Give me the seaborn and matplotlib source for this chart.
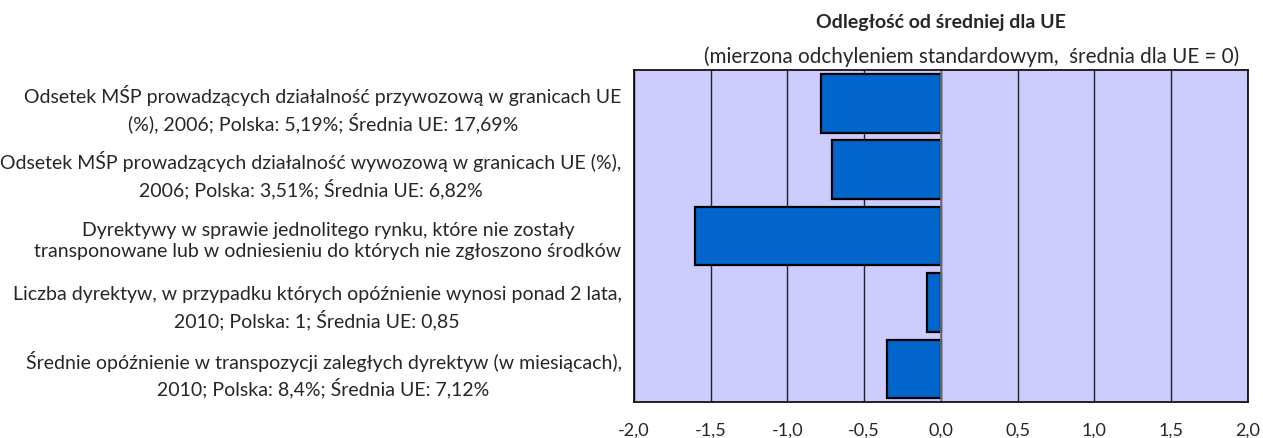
import numpy as np
import pandas as pd
import matplotlib
matplotlib.use('Agg')
import matplotlib.pyplot as plt
import seaborn as sns

# indicators (y axis) and distance from EU mean in standard deviations
labels = [
    'Odsetek MŚP prowadzących działalność przywozową w granicach UE\n(%), 2006; Polska: 5,19%; Średnia UE: 17,69%',
    'Odsetek MŚP prowadzących działalność wywozową w granicach UE (%),\n2006; Polska: 3,51%; Średnia UE: 6,82%',
    'Dyrektywy w sprawie jednolitego rynku, które nie zostały\ntransponowane lub w odniesieniu do których nie zgłoszono środków',
    'Liczba dyrektyw, w przypadku których opóźnienie wynosi ponad 2 lata,\n2010; Polska: 1; Średnia UE: 0,85',
    'Średnie opóźnienie w transpozycji zaległych dyrektyw (w miesiącach),\n2010; Polska: 8,4%; Średnia UE: 7,12%',
]
values = [-0.78, -0.71, -1.60, -0.09, -0.35]
xticks = [-2.0, -1.5, -1.0, -0.5, 0.0, 0.5, 1.0, 1.5, 2.0]

title = 'Odległość od średniej dla UE'
subtitle = '(mierzona odchyleniem standardowym,  średnia dla UE = 0)'

sns.set_style('white')
plt.rcParams['font.family'] = ['Lato', 'DejaVu Sans']

df = pd.DataFrame({'label': labels, 'value': values})

fig, ax = plt.subplots(figsize=(12.63, 4.39), dpi=100)
fig.subplots_adjust(left=0.502, right=0.988, top=0.838, bottom=0.082)

ax.set_facecolor('#CCCCFF')
ax.set_axisbelow(True)
ax.xaxis.grid(True, color='#222222', linewidth=1)

sns.barplot(data=df, x='value', y='label', orient='h', color='#0066CC',
            saturation=1, edgecolor='black', linewidth=1.6, width=0.88, ax=ax)
ax.axvline(0, color='#777777', linewidth=1.2, zorder=1)

ax.set_xlim(-2, 2)
ax.set_xticks(xticks)
ax.set_xticklabels([f'{t:.1f}'.replace('.', ',') for t in xticks])
ax.set_xlabel('')
ax.set_ylabel('')
ax.tick_params(axis='x', length=0, pad=14, labelsize=13)
ax.tick_params(axis='y', length=0, pad=9, labelsize=14)
for t in ax.get_yticklabels():
    t.set_multialignment('center')
    t.set_linespacing(1.35)

for s in ax.spines.values():
    s.set_visible(True)
    s.set_color('black')
    s.set_linewidth(1.2)

ax.text(0.5, 1.145, title, transform=ax.transAxes, ha='center', va='center',
        fontsize=14, fontweight='bold')
ax.text(0.55, 1.042, subtitle, transform=ax.transAxes, ha='center', va='center',
        fontsize=14.9)

plt.savefig('out.png', dpi=100)
